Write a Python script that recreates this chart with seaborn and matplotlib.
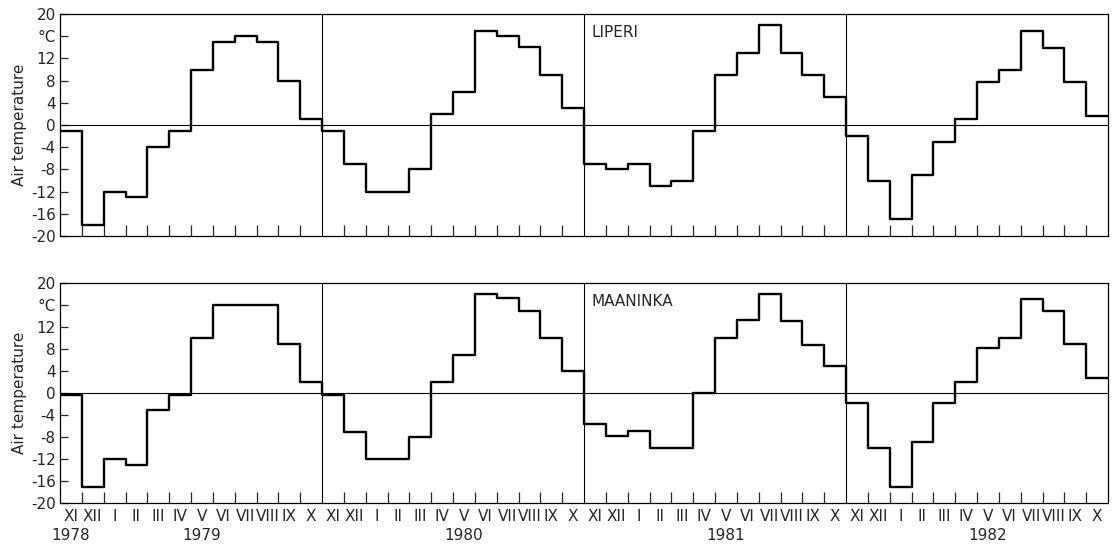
import numpy as np
import pandas as pd
import matplotlib
matplotlib.use("Agg")
import matplotlib.pyplot as plt
import matplotlib.transforms as mtransforms
import seaborn as sns

# ---- data (monthly mean air temperature, Nov 1978 - Oct 1982) ----
months = ["XI", "XII", "I", "II", "III", "IV", "V", "VI", "VII", "VIII", "IX", "X"]
years = ["1978", "1979", "1980", "1981", "1982"]
stations = ["LIPERI", "MAANINKA"]

liperi = [-1, -18, -12, -13, -4, -1, 10, 15, 16, 15, 8, 1,
          -1, -7, -12, -12, -8, 2, 6, 17, 16, 14, 9, 3,
          -7, -8, -7, -11, -10, -1, 9, 13, 18, 13, 9, 5,
          -2, -10, -17, -9, -3, 1, 7.7, 10, 17, 13.8, 7.7, 1.7]
maaninka = [-0.3, -17, -12, -13, -3, -0.4, 10, 16, 16, 16, 9, 2,
            -0.3, -7, -12, -12, -8, 2, 7, 18, 17.2, 15, 10, 4,
            -5.7, -7.8, -6.9, -10, -10, 0, 10, 13.2, 18, 13.1, 8.8, 4.9,
            -1.9, -10, -17, -8.9, -1.9, 2, 8.1, 10, 17.1, 15, 8.9, 2.8]

ytick_vals = list(range(-20, 21, 4))
ytick_labels = ["-20", "-16", "-12", "-8", "-4", "0", "4", "8", "12", "°C", "20"]

sns.set_style("white")
plt.rcParams["font.family"] = ["DejaVu Sans"]

fig = plt.figure(figsize=(11.13, 5.45), dpi=100)
W, H = 1113, 545
left, right = 60 / W, 1108 / W
ax_top = fig.add_axes([left, 1 - 236 / H, right - left, (236 - 14) / H])
ax_bot = fig.add_axes([left, 1 - 503 / H, right - left, (503 - 283) / H])

n = len(liperi)
for ax, vals, name, show_x in [(ax_top, liperi, stations[0], False),
                               (ax_bot, maaninka, stations[1], True)]:
    df = pd.DataFrame({"x": np.arange(n + 1), "t": list(vals) + [vals[-1]]})
    sns.lineplot(data=df, x="x", y="t", ax=ax, drawstyle="steps-post",
                 color="black", linewidth=1.7, estimator=None)
    ax.axhline(0, color="black", linewidth=0.8)
    for b in (12, 24, 36):
        ax.axvline(b, color="black", linewidth=0.8)
    ax.set_xlim(0, n)
    ax.set_ylim(-20, 20)
    ax.set_yticks(ytick_vals)
    ax.set_yticklabels(ytick_labels, fontsize=11)
    ax.set_xticks([i for i in range(1, n) if i % 12 != 0])
    ax.set_xticklabels([])
    ax.tick_params(axis="x", which="major", direction="in", length=8, width=0.9,
                   bottom=True, top=False)
    ax.tick_params(axis="y", direction="in", length=6, width=0.9, left=True,
                   right=False, pad=3)
    for s in ax.spines.values():
        s.set_color("black")
        s.set_linewidth(0.9)
    ax.set_xlabel("")
    ax.set_ylabel("Air temperature", fontsize=11, labelpad=3)
    ax.text(24.35, 16.6, name, fontsize=11, ha="left", va="center")
    if show_x:
        centers = np.arange(n) + 0.5
        ax.set_xticks(centers, minor=True)
        ax.set_xticklabels(months * 4, minor=True, fontsize=11)
        ax.tick_params(axis="x", which="minor", length=0, pad=4)
        trans = mtransforms.blended_transform_factory(ax.transData, ax.transAxes)
        year_pos = [0.5, 6.5, 18.5, 30.5, 42.5]
        for yp, yl in zip(year_pos, years):
            ax.text(yp, -0.15, yl, transform=trans, ha="center", va="center",
                    fontsize=11)

fig.savefig("out.png", dpi=100)
